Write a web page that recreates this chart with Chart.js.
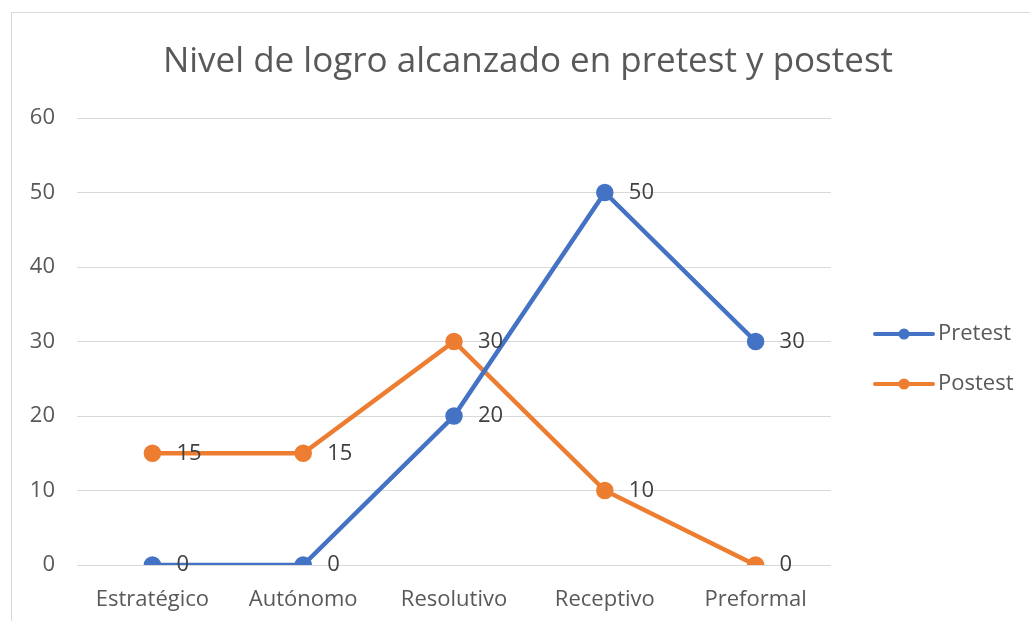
<!DOCTYPE html>
<html>
<head>
<meta charset="utf-8">
<script src="https://cdn.jsdelivr.net/npm/chart.js@4"></script>
<style>
    html, body { margin: 0; padding: 0; background: #fff; overflow: hidden; }
    #frame {
        position: absolute; left: 11px; top: 12px;
        width: 1032px; height: 620px;
        border-left: 1px solid #d9d9d9; border-top: 1px solid #d9d9d9;
        overflow: hidden;
    }
    canvas { display: block; }
</style>
</head>
<body>
<div id="frame"><canvas id="chart" width="1032" height="608"></canvas></div>
<script>
const categories = ["Estratégico", "Autónomo", "Resolutivo", "Receptivo", "Preformal"];
const pretest = [0, 0, 20, 50, 30];
const postest = [15, 15, 30, 10, 0];
const yTicks = [0, 10, 20, 30, 40, 50, 60];
const titleText = "Nivel de logro alcanzado en pretest y postest";

const FONT = "'Open Sans', sans-serif";
const TEXT = "#595959";
const SIZE = 22;

// title drawn by hand so it is centred on the whole frame, not on the plot
const bigTitle = {
    id: "bigTitle",
    afterDraw(chart) {
        const ctx = chart.ctx;
        ctx.save();
        ctx.font = "35px " + FONT;
        ctx.fillStyle = TEXT;
        ctx.textAlign = "center";
        ctx.textBaseline = "middle";
        ctx.fillText(titleText, 516, 49);
        ctx.restore();
    }
};

// value labels to the right of each point
const valueLabels = {
    id: "valueLabels",
    afterDatasetsDraw(chart) {
        const ctx = chart.ctx;
        ctx.save();
        ctx.font = SIZE + "px " + FONT;
        ctx.fillStyle = "#404040";
        ctx.textAlign = "left";
        ctx.textBaseline = "middle";
        chart.data.datasets.forEach((ds, i) => {
            chart.getDatasetMeta(i).data.forEach((pt, j) => {
                ctx.fillText(String(ds.data[j]), pt.x + 24, pt.y);
            });
        });
        ctx.restore();
    }
};

// excel style legend: line with a dot in the middle
const sideLegend = {
    id: "sideLegend",
    afterDraw(chart) {
        const ctx = chart.ctx;
        ctx.save();
        ctx.font = SIZE + "px " + FONT;
        ctx.textBaseline = "middle";
        ctx.textAlign = "left";
        chart.data.datasets.forEach((ds, i) => {
            const y = 321 + i * 50;
            const x0 = 863, x1 = 921;
            ctx.strokeStyle = ds.borderColor;
            ctx.lineWidth = 4;
            ctx.lineCap = "round";
            ctx.beginPath();
            ctx.moveTo(x0, y);
            ctx.lineTo(x1, y);
            ctx.stroke();
            ctx.fillStyle = ds.borderColor;
            ctx.beginPath();
            ctx.arc((x0 + x1) / 2, y, 5.5, 0, Math.PI * 2);
            ctx.fill();
            ctx.fillStyle = TEXT;
            ctx.fillText(ds.label, x1 + 5, y);
        });
        ctx.restore();
    }
};

new Chart(document.getElementById("chart"), {
    type: "line",
    data: {
        labels: categories,
        datasets: [
            {
                label: "Pretest", data: pretest,
                borderColor: "#4472C4", backgroundColor: "#4472C4",
                borderWidth: 4.5, pointRadius: 6.5, pointHoverRadius: 6.5, tension: 0
            },
            {
                label: "Postest", data: postest,
                borderColor: "#ED7D31", backgroundColor: "#ED7D31",
                borderWidth: 4.5, pointRadius: 6.5, pointHoverRadius: 6.5, tension: 0
            }
        ]
    },
    options: {
        responsive: false,
        animation: false,
        layout: { padding: { left: 0, right: 213, top: 105, bottom: 0 } },
        plugins: {
            legend: { display: false },
            tooltip: { enabled: false },
            title: { display: false }
        },
        scales: {
            x: {
                offset: true,
                grid: { display: false },
                border: { display: false },
                ticks: { color: TEXT, font: { family: FONT, size: SIZE }, padding: 14, maxRotation: 0 },
                afterFit(s) { s.height = 56; }
            },
            y: {
                min: 0, max: 60,
                afterBuildTicks(s) { s.ticks = yTicks.map(v => ({ value: v })); },
                grid: { color: "#d9d9d9", lineWidth: 1, drawTicks: false },
                border: { display: false },
                ticks: { color: TEXT, font: { family: FONT, size: SIZE }, padding: 22 },
                afterFit(s) { s.width = 65; }
            }
        }
    },
    plugins: [valueLabels, sideLegend, bigTitle]
});
</script>
</body>
</html>
